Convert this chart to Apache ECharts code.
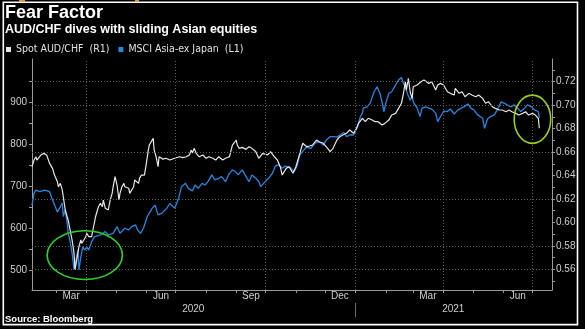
<!DOCTYPE html>
<html>
<head>
<meta charset="utf-8">
<script src="https://cdn.jsdelivr.net/npm/echarts@6/dist/echarts.min.js"></script>
<style>
html,body{margin:0;padding:0;background:#000;}
#c{width:585px;height:329px;}
</style>
</head>
<body>
<div id="c"></div>
<script>
// ---------------- DATA ----------------
const audName = 'Spot AUD/CHF  (R1)';
const msciName = 'MSCI Asia-ex Japan  (L1)';

const audDates = ['2020-02-05','2020-02-07','2020-02-09','2020-02-10','2020-02-12','2020-02-14','2020-02-15','2020-02-17','2020-02-18','2020-02-20','2020-02-22','2020-02-23','2020-02-26','2020-02-28','2020-03-02','2020-03-03','2020-03-05','2020-03-07','2020-03-08','2020-03-10','2020-03-12','2020-03-13','2020-03-15','2020-03-17','2020-03-19','2020-03-20','2020-03-22','2020-03-24','2020-03-26','2020-03-27','2020-03-29','2020-03-31','2020-04-01','2020-04-03','2020-04-05','2020-04-06','2020-04-08','2020-04-10','2020-04-12','2020-04-13','2020-04-15','2020-04-17','2020-04-18','2020-04-20','2020-04-22','2020-04-23','2020-04-25','2020-04-27','2020-04-28','2020-04-30','2020-05-02','2020-05-04','2020-05-05','2020-05-07','2020-05-09','2020-05-10','2020-05-12','2020-05-14','2020-05-15','2020-05-17','2020-05-19','2020-05-20','2020-05-22','2020-05-24','2020-05-25','2020-05-27','2020-05-29','2020-05-30','2020-06-01','2020-06-03','2020-06-04','2020-06-06','2020-06-08','2020-06-09','2020-06-11','2020-06-13','2020-06-14','2020-06-18','2020-06-21','2020-06-25','2020-06-30','2020-07-05','2020-07-08','2020-07-12','2020-07-15','2020-07-17','2020-07-18','2020-07-20','2020-07-22','2020-07-25','2020-07-29','2020-08-01','2020-08-04','2020-08-08','2020-08-11','2020-08-14','2020-08-18','2020-08-21','2020-08-25','2020-08-28','2020-09-01','2020-09-02','2020-09-04','2020-09-07','2020-09-11','2020-09-14','2020-09-17','2020-09-21','2020-09-24','2020-09-28','2020-09-29','2020-10-03','2020-10-06','2020-10-10','2020-10-13','2020-10-16','2020-10-18','2020-10-22','2020-10-25','2020-10-29','2020-11-01','2020-11-05','2020-11-08','2020-11-12','2020-11-15','2020-11-18','2020-11-22','2020-11-25','2020-11-29','2020-12-02','2020-12-06','2020-12-09','2020-12-13','2020-12-16','2020-12-19','2020-12-23','2020-12-26','2020-12-30','2021-01-02','2021-01-04','2021-01-06','2021-01-08','2021-01-11','2021-01-14','2021-01-18','2021-01-21','2021-01-24','2021-01-28','2021-01-31','2021-02-04','2021-02-07','2021-02-11','2021-02-14','2021-02-17','2021-02-19','2021-02-21','2021-02-22','2021-02-24','2021-02-26','2021-02-28','2021-03-01','2021-03-05','2021-03-08','2021-03-12','2021-03-14','2021-03-17','2021-03-20','2021-03-24','2021-03-26','2021-03-29','2021-04-01','2021-04-05','2021-04-08','2021-04-12','2021-04-13','2021-04-17','2021-04-20','2021-04-23','2021-04-27','2021-04-30','2021-05-04','2021-05-07','2021-05-11','2021-05-14','2021-05-17','2021-05-21','2021-05-24','2021-05-28','2021-05-31','2021-06-04','2021-06-07','2021-06-10','2021-06-14','2021-06-17','2021-06-21','2021-06-24','2021-06-27','2021-07-01','2021-07-04','2021-07-07','2021-07-08'];
const audValues = [0.6475,0.6532,0.6560,0.6532,0.6547,0.6575,0.6560,0.6589,0.6594,0.6575,0.6560,0.6504,0.6461,0.6404,0.6347,0.6304,0.6333,0.6276,0.6219,0.6106,0.6091,0.6020,0.5935,0.5850,0.5736,0.5594,0.5694,0.5793,0.5850,0.5822,0.5850,0.5878,0.5907,0.5878,0.5892,0.5878,0.5963,0.6048,0.6106,0.6134,0.6163,0.6134,0.6191,0.6120,0.6134,0.6106,0.6191,0.6248,0.6304,0.6390,0.6319,0.6191,0.6248,0.6304,0.6333,0.6304,0.6319,0.6291,0.6248,0.6234,0.6304,0.6362,0.6362,0.6333,0.6376,0.6404,0.6419,0.6404,0.6504,0.6617,0.6660,0.6646,0.6717,0.6617,0.6560,0.6475,0.6560,0.6540,0.6547,0.6532,0.6547,0.6560,0.6553,0.6560,0.6575,0.6617,0.6592,0.6632,0.6589,0.6560,0.6575,0.6547,0.6560,0.6547,0.6532,0.6560,0.6532,0.6547,0.6560,0.6660,0.6703,0.6660,0.6632,0.6640,0.6623,0.6646,0.6632,0.6603,0.6547,0.6589,0.6603,0.6575,0.6603,0.6560,0.6532,0.6475,0.6404,0.6461,0.6475,0.6419,0.6475,0.6589,0.6675,0.6646,0.6652,0.6660,0.6703,0.6688,0.6675,0.6646,0.6603,0.6632,0.6703,0.6731,0.6745,0.6762,0.6788,0.6760,0.6803,0.6845,0.6859,0.6888,0.6859,0.6888,0.6873,0.6859,0.6859,0.6831,0.6845,0.6873,0.6916,0.6930,0.6973,0.7016,0.7101,0.7200,0.7129,0.7229,0.7108,0.7058,0.7157,0.7172,0.7193,0.7215,0.7229,0.7186,0.7200,0.7129,0.7172,0.7186,0.7172,0.7115,0.7101,0.7087,0.7144,0.7101,0.7115,0.7072,0.7101,0.7087,0.7072,0.7087,0.7058,0.7016,0.7029,0.6987,0.6973,0.6959,0.6959,0.6944,0.6959,0.6944,0.6930,0.6916,0.6930,0.6944,0.6916,0.6930,0.6916,0.6888,0.6803];

const msciDates = ['2020-02-05','2020-02-07','2020-02-09','2020-02-13','2020-02-18','2020-02-23','2020-02-26','2020-03-02','2020-03-05','2020-03-07','2020-03-08','2020-03-10','2020-03-12','2020-03-13','2020-03-15','2020-03-17','2020-03-19','2020-03-21','2020-03-23','2020-03-24','2020-03-26','2020-03-28','2020-03-30','2020-04-01','2020-04-03','2020-04-06','2020-04-09','2020-04-15','2020-04-20','2020-04-23','2020-04-28','2020-05-02','2020-05-05','2020-05-10','2020-05-14','2020-05-17','2020-05-21','2020-05-23','2020-05-26','2020-05-29','2020-06-02','2020-06-07','2020-06-10','2020-06-13','2020-06-17','2020-06-22','2020-06-25','2020-06-30','2020-07-04','2020-07-07','2020-07-11','2020-07-14','2020-07-18','2020-07-21','2020-07-24','2020-07-28','2020-07-31','2020-08-03','2020-08-07','2020-08-10','2020-08-14','2020-08-17','2020-08-21','2020-08-24','2020-08-28','2020-08-31','2020-09-03','2020-09-07','2020-09-10','2020-09-14','2020-09-17','2020-09-21','2020-09-24','2020-09-26','2020-09-29','2020-10-04','2020-10-08','2020-10-11','2020-10-14','2020-10-18','2020-10-21','2020-10-26','2020-10-30','2020-11-02','2020-11-05','2020-11-09','2020-11-12','2020-11-16','2020-11-19','2020-11-22','2020-11-26','2020-11-29','2020-12-02','2020-12-06','2020-12-09','2020-12-13','2020-12-16','2020-12-20','2020-12-23','2020-12-26','2020-12-30','2021-01-03','2021-01-06','2021-01-08','2021-01-09','2021-01-13','2021-01-16','2021-01-18','2021-01-20','2021-01-23','2021-01-26','2021-01-28','2021-01-30','2021-02-01','2021-02-03','2021-02-04','2021-02-07','2021-02-11','2021-02-14','2021-02-17','2021-02-19','2021-02-21','2021-02-23','2021-02-26','2021-02-28','2021-03-01','2021-03-05','2021-03-08','2021-03-10','2021-03-14','2021-03-17','2021-03-21','2021-03-24','2021-03-26','2021-03-29','2021-04-01','2021-04-05','2021-04-08','2021-04-12','2021-04-15','2021-04-19','2021-04-22','2021-04-26','2021-04-29','2021-05-02','2021-05-06','2021-05-11','2021-05-13','2021-05-16','2021-05-19','2021-05-23','2021-05-26','2021-05-30','2021-06-02','2021-06-05','2021-06-09','2021-06-12','2021-06-16','2021-06-19','2021-06-23','2021-06-26','2021-06-30','2021-07-03','2021-07-07','2021-07-08'];
const msciValues = [656,684,692,688,692,688,668,640,652,661,629,645,614,590,569,542,502,525,549,502,533,557,549,557,549,569,581,585,593,585,589,605,589,601,597,605,609,597,589,601,629,649,656,633,637,649,660,649,672,700,708,696,690,704,696,708,704,712,728,716,720,724,712,728,740,736,728,740,728,712,728,720,712,700,708,720,732,749,752,744,749,746,736,748,775,787,794,791,799,807,805,799,811,819,819,818,823,829,819,823,823,842,867,875,887,890,899,895,926,938,922,902,879,899,914,922,926,942,954,960,946,938,922,906,918,902,887,867,887,890,887,883,875,855,867,879,879,885,873,881,887,890,897,887,883,871,863,839,861,867,871,883,902,899,895,890,895,887,879,887,895,890,883,879,864];

// axis ticks / labels
const leftLabelValues = [500, 600, 700, 800, 900];
const leftTickValues = [500, 550, 600, 650, 700, 750, 800, 850, 900, 950];
const rightLabelValues = [0.56, 0.58, 0.60, 0.62, 0.64, 0.66, 0.68, 0.70, 0.72];
const rightTickValues = [0.55, 0.56, 0.57, 0.58, 0.59, 0.60, 0.61, 0.62, 0.63, 0.64, 0.65, 0.66, 0.67, 0.68, 0.69, 0.70, 0.71, 0.72, 0.73];
const gridLineValues = [0.56, 0.58, 0.62, 0.66, 0.70, 0.72];
const monthTickDates = ['2020-03-01','2020-04-01','2020-05-01','2020-06-01','2020-07-01','2020-08-01','2020-09-01','2020-10-01','2020-11-01','2020-12-01','2021-01-01','2021-02-01','2021-03-01','2021-04-01','2021-05-01','2021-06-01','2021-07-01'];
const quarterGridDates = ['2020-04-01','2020-07-01','2020-10-01','2021-01-01','2021-04-01','2021-07-01'];
const monthLabelDates = ['2020-03-16','2020-06-16','2020-09-16','2020-12-16','2021-03-16','2021-06-16'];
const monthLabels = ['Mar','Jun','Sep','Dec','Mar','Jun'];
const yearLabelDates = ['2020-07-19','2021-04-11'];
const yearLabels = ['2020','2021'];
const yearDividerDates = ['2021-01-01'];
const xRange = ['2020-02-05','2021-07-21'];
const leftRange = [454, 1004];
const rightRange = [0.54235, 0.7394];

// ---------------- CHART ----------------
const T = s => +echarts.time.parse(s);
const FONT = "'Liberation Sans', Arial, sans-serif";
const NARROW = "'Liberation Sans Narrow', 'DejaVu Sans Condensed', sans-serif";
const AXIS_COLOR = '#9a9a9a';
const LABEL_COLOR = '#cfcfcf';
const GRID_COLOR = '#5e5e5e';
const WHITE_LINE = '#e6e6e6';
const BLUE_LINE = '#2a85dc';

const monthLabelTimes = monthLabelDates.map(T);
const yearLabelTimes = yearLabelDates.map(T);

const chart = echarts.init(document.getElementById('c'), null, { renderer: 'canvas' });

// x axes are numeric (timestamps) so custom tick positions can be used
const baseX = {
  type: 'value', gridIndex: 0, min: T(xRange[0]), max: T(xRange[1]), position: 'bottom', scale: true
};

const gridMarkLines = []
  .concat(gridLineValues.map(v => ({ yAxis: v })))
  .concat(quarterGridDates.map(d => ({ xAxis: T(d) })));

const option = {
  backgroundColor: '#000',
  animation: false,
  title: [
    { text: 'Fear Factor', left: 5, top: 4, padding: 0,
      textStyle: { color: '#fff', fontSize: 18, fontWeight: 'bold', fontFamily: FONT } },
    { text: 'AUD/CHF dives with sliding Asian equities', left: 5, top: 23.5, padding: 0,
      textStyle: { color: '#fff', fontSize: 12.5, fontWeight: 'bold', fontFamily: FONT } },
    { text: 'Source: Bloomberg', left: 5, top: 314.5, padding: 0,
      textStyle: { color: '#fff', fontSize: 9.5, fontWeight: 'bold', fontFamily: FONT } }
  ],
  legend: {
    left: 6, top: 44, padding: 0, icon: 'rect', itemWidth: 5, itemHeight: 5, itemGap: 9,
    data: [audName, msciName],
    textStyle: { color: '#e0e0e0', fontSize: 10.5, fontFamily: NARROW }
  },
  grid: { left: 32, right: 33, top: 59, bottom: 39, containLabel: false, outerBoundsMode: 'none' },
  xAxis: [
    Object.assign({}, baseX, {
      axisLine: { show: true, lineStyle: { color: AXIS_COLOR, width: 1 } },
      axisTick: { show: true, customValues: monthTickDates.map(T), length: 3, lineStyle: { color: AXIS_COLOR } },
      axisLabel: {
        show: true, customValues: monthLabelTimes, margin: 1,
        color: LABEL_COLOR, fontSize: 10, fontFamily: FONT,
        formatter: v => { const i = monthLabelTimes.indexOf(v); return i >= 0 ? monthLabels[i] : ''; }
      },
      splitLine: { show: false }
    }),
    Object.assign({}, baseX, {
      offset: 13,
      axisLine: { show: false },
      axisTick: { show: true, customValues: yearDividerDates.map(T), length: 14, lineStyle: { color: '#6a6a6a' } },
      axisLabel: {
        show: true, customValues: yearLabelTimes, margin: 1,
        color: LABEL_COLOR, fontSize: 10, fontFamily: FONT,
        formatter: v => { const i = yearLabelTimes.indexOf(v); return i >= 0 ? yearLabels[i] : ''; }
      },
      splitLine: { show: false }
    })
  ],
  yAxis: [
    { // AUD/CHF right
      type: 'value', position: 'right', min: rightRange[0], max: rightRange[1],
      axisLine: { show: true, lineStyle: { color: AXIS_COLOR } },
      axisTick: { show: true, customValues: rightTickValues, length: 3, lineStyle: { color: AXIS_COLOR } },
      axisLabel: { show: true, customValues: rightLabelValues, margin: 4, color: LABEL_COLOR, fontSize: 10, fontFamily: FONT,
        formatter: v => v.toFixed(2) },
      splitLine: { show: false }
    },
    { // MSCI left
      type: 'value', position: 'left', min: leftRange[0], max: leftRange[1],
      axisLine: { show: true, lineStyle: { color: AXIS_COLOR } },
      axisTick: { show: true, customValues: leftTickValues, length: 3, lineStyle: { color: AXIS_COLOR } },
      axisLabel: { show: true, customValues: leftLabelValues, margin: 5, color: LABEL_COLOR, fontSize: 10, fontFamily: FONT },
      splitLine: { show: false }
    }
  ],
  series: [
    { // grid lines (dotted) placed through the axes' own scales
      name: 'grid', type: 'line', xAxisIndex: 0, yAxisIndex: 0, data: [], z: 1, silent: true,
      markLine: {
        silent: true, animation: false, symbol: ['none', 'none'], label: { show: false },
        lineStyle: { color: GRID_COLOR, width: 1, type: [1, 2] },
        emphasis: { disabled: true },
        data: gridMarkLines
      }
    },
    {
      name: msciName, type: 'line', xAxisIndex: 0, yAxisIndex: 1,
      data: msciDates.map((d, i) => [T(d), msciValues[i]]),
      symbol: 'none', showSymbol: false, z: 3,
      color: BLUE_LINE, lineStyle: { color: BLUE_LINE, width: 1.3 }
    },
    {
      name: audName, type: 'line', xAxisIndex: 0, yAxisIndex: 0,
      data: audDates.map((d, i) => [T(d), audValues[i]]),
      symbol: 'none', showSymbol: false, z: 4,
      color: WHITE_LINE, lineStyle: { color: WHITE_LINE, width: 1.2 }
    }
  ]
};

chart.setOption(option);

// ---------------- ANNOTATIONS (green ellipses, in data coordinates) ----------------
const annotations = [
  { date: '2020-03-30', value: 537, yAxisIndex: 1, halfDays: 38.5, halfValue: 58, color: '#2ed12e' },
  { date: '2021-07-01', value: 0.688, yAxisIndex: 0, halfDays: 18.7, halfValue: 0.0206, color: '#9acd1e' }
];
const DAY = 86400000;
const graphics = [
  { id: 'frame', type: 'rect', silent: true, z: 100,
    shape: { x: 3.3, y: 2.3, width: 574.2, height: 322.3 },
    style: { fill: 'none', stroke: '#ffffff', lineWidth: 1.6 } },
  { id: 'o1', type: 'rect', silent: true, shape: { x: 19, y: 0, width: 6, height: 1.5 }, style: { fill: '#f39322' } },
  { id: 'o2', type: 'rect', silent: true, shape: { x: 135, y: 0, width: 4, height: 1.5 }, style: { fill: '#f39322' } }
];
annotations.forEach((a, k) => {
  const finder = { xAxisIndex: 0, yAxisIndex: a.yAxisIndex };
  const c = chart.convertToPixel(finder, [T(a.date), a.value]);
  const e = chart.convertToPixel(finder, [T(a.date) + a.halfDays * DAY, a.value + a.halfValue]);
  graphics.push({
    id: 'ell' + k, type: 'ellipse', silent: true, z: 50,
    shape: { cx: c[0], cy: c[1], rx: Math.abs(e[0] - c[0]), ry: Math.abs(c[1] - e[1]) },
    style: { fill: 'none', stroke: a.color, lineWidth: 1.6 }
  });
});
chart.setOption({ graphic: { elements: graphics } });
</script>
</body>
</html>
